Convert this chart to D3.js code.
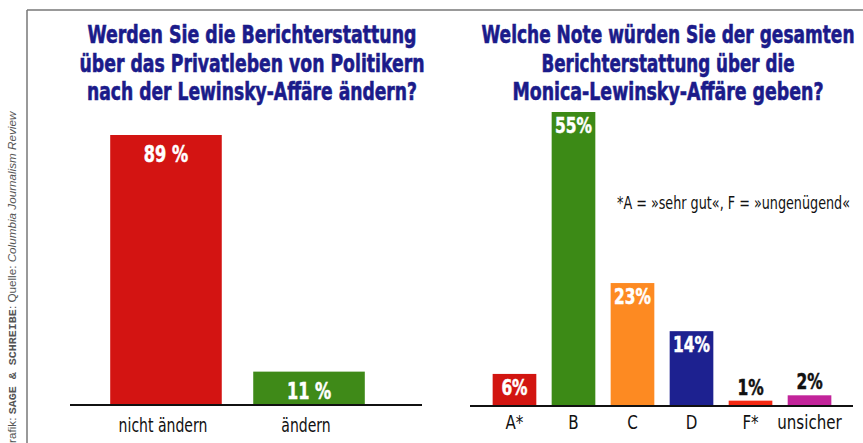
<!DOCTYPE html>
<html>
<head>
<meta charset="utf-8">
<script src="https://cdn.jsdelivr.net/npm/d3@7"></script>
<style>
  body { margin: 0; background: #fff; }
  svg { display: block; }
  text { font-family: "DejaVu Sans Condensed", "DejaVu Sans", sans-serif; }
</style>
</head>
<body>
<div id="chart"></div>
<script>
// left chart data
const leftCats = ["nicht ändern", "ändern"];
const leftValues = [89, 11];
const leftLabels = ["89 %", "11 %"];
const leftColors = ["#d31412", "#3f8a18"];
const leftTitle = ["Werden Sie die Berichterstattung", "über das Privatleben von Politikern", "nach der Lewinsky-Affäre ändern?"];

// right chart data
const rightCats = ["A*", "B", "C", "D", "F*", "unsicher"];
const rightValues = [6, 55, 23, 14, 1, 2];
const rightLabels = ["6%", "55%", "23%", "14%", "1%", "2%"];
const rightColors = ["#d21510", "#3c8a16", "#fd8a22", "#1d2190", "#f42812", "#c2249a"];
const rightTitle = ["Welche Note würden Sie der gesamten", "Berichterstattung über die", "Monica-Lewinsky-Affäre geben?"];
const footnote = "*A = »sehr gut«, F = »ungenügend«";

const W = 863, H = 443;
const titleColor = "#1b1b8a";
const narrow = 0.78; // squeeze to mimic the condensed face

const svg = d3.select("#chart").append("svg")
    .attr("width", W)
    .attr("height", H);

// frame lines
svg.append("line").attr("x1", 27).attr("x2", W).attr("y1", 10).attr("y2", 10)
    .attr("stroke", "#777").attr("stroke-width", 1.5);
svg.append("line").attr("x1", 27).attr("x2", 27).attr("y1", 10).attr("y2", H)
    .attr("stroke", "#777").attr("stroke-width", 1.5);

// side credit, rotated (starts below the edge like the scan)
const credit = svg.append("text")
    .attr("transform", "translate(16,452) rotate(-90)")
    .attr("fill", "#555")
    .style("font-size", "11.7px");
credit.append("tspan").style("font-family", "'Liberation Sans', Arial, sans-serif").text("Grafik: ");
credit.append("tspan").style("font-family", "'Liberation Mono', 'DejaVu Sans Mono', monospace").attr("font-weight", "bold").text("SAGE & SCHREIBE");
credit.append("tspan").style("font-family", "'Liberation Sans', Arial, sans-serif").text(": Quelle: ");
credit.append("tspan").style("font-family", "'Liberation Sans', Arial, sans-serif").attr("font-style", "italic").text("Columbia Journalism Review");

// titles
function drawTitle(lines, cx, widths) {
    svg.append("g").selectAll("text")
        .data(lines)
        .join("text")
        .attr("x", cx)
        .attr("y", (d, i) => 43 + i * 28.5)
        .attr("text-anchor", "middle")
        .attr("fill", titleColor)
        .attr("stroke", titleColor)
        .attr("stroke-width", 0.6)
        .attr("font-weight", "bold")
        .style("font-size", "25px")
        .attr("textLength", (d, i) => widths[i])
        .attr("lengthAdjust", "spacingAndGlyphs")
        .text(d => d);
}
drawTitle(leftTitle, 252, [329, 345, 330]);
drawTitle(rightTitle, 668, [373, 253, 311]);

// ---- left chart
const xL = d3.scaleBand().domain(leftCats).range([62, 413]).paddingInner(0.22).paddingOuter(0.337);
const yL = d3.scaleLinear().domain([0, 89]).range([405, 135]);

const gL = svg.append("g");
gL.selectAll("rect")
    .data(leftValues)
    .join("rect")
    .attr("x", (d, i) => xL(leftCats[i]))
    .attr("width", xL.bandwidth())
    .attr("y", d => yL(d))
    .attr("height", d => yL(0) - yL(d))
    .attr("fill", (d, i) => leftColors[i]);

gL.selectAll("text.val")
    .data(leftValues)
    .join("text")
    .attr("class", "val")
    .attr("transform", (d, i) => `translate(${xL(leftCats[i]) + xL.bandwidth() / 2},${yL(d) + 27}) scale(${narrow},1)`)
    .attr("text-anchor", "middle")
    .attr("fill", "#fff")
    .attr("stroke", "#fff")
    .attr("stroke-width", 0.5)
    .attr("font-weight", "bold")
    .style("font-size", "23px")
    .text((d, i) => leftLabels[i]);

gL.append("line").attr("x1", 70).attr("x2", 422).attr("y1", yL(0)).attr("y2", yL(0))
    .attr("stroke", "#111").attr("stroke-width", 2);

gL.selectAll("text.cat")
    .data(leftCats)
    .join("text")
    .attr("class", "cat")
    .attr("transform", d => `translate(${xL(d) + xL.bandwidth() / 2 - 3},432) scale(${narrow},1)`)
    .attr("text-anchor", "middle")
    .attr("fill", "#111")
    .style("font-size", "20px")
    .text(d => d);

// ---- right chart
const xR = d3.scaleBand().domain(rightCats).range([472, 852]).paddingInner(0.26).paddingOuter(0.35);
const yR = d3.scaleLinear().domain([0, 55]).range([406, 112]);

const gR = svg.append("g");
gR.selectAll("rect")
    .data(rightValues)
    .join("rect")
    .attr("x", (d, i) => xR(rightCats[i]))
    .attr("width", xR.bandwidth())
    .attr("y", d => yR(d))
    .attr("height", d => yR(0) - yR(d))
    .attr("fill", (d, i) => rightColors[i]);

gR.selectAll("text.val")
    .data(rightValues)
    .join("text")
    .attr("class", "val")
    .attr("transform", (d, i) => `translate(${xR(rightCats[i]) + xR.bandwidth() / 2},${d >= 5 ? yR(d) + 21 : yR(d) - 6}) scale(${narrow},1)`)
    .attr("text-anchor", "middle")
    .attr("fill", d => d >= 5 ? "#fff" : "#111")
    .attr("stroke", d => d >= 5 ? "#fff" : "#111")
    .attr("stroke-width", 0.5)
    .attr("font-weight", "bold")
    .style("font-size", "22px")
    .text((d, i) => rightLabels[i]);

gR.append("line").attr("x1", 470).attr("x2", 853).attr("y1", yR(0)).attr("y2", yR(0))
    .attr("stroke", "#111").attr("stroke-width", 2);

gR.selectAll("text.cat")
    .data(rightCats)
    .join("text")
    .attr("class", "cat")
    .attr("transform", d => `translate(${xR(d) + xR.bandwidth() / 2},429) scale(0.84,1)`)
    .attr("text-anchor", "middle")
    .attr("fill", "#111")
    .style("font-size", "20px")
    .text(d => d);

svg.append("text")
    .attr("x", 733.5)
    .attr("y", 209)
    .attr("text-anchor", "middle")
    .attr("fill", "#111")
    .style("font-size", "17px")
    .attr("textLength", 233)
    .attr("lengthAdjust", "spacingAndGlyphs")
    .text(footnote);
</script>
</body>
</html>
